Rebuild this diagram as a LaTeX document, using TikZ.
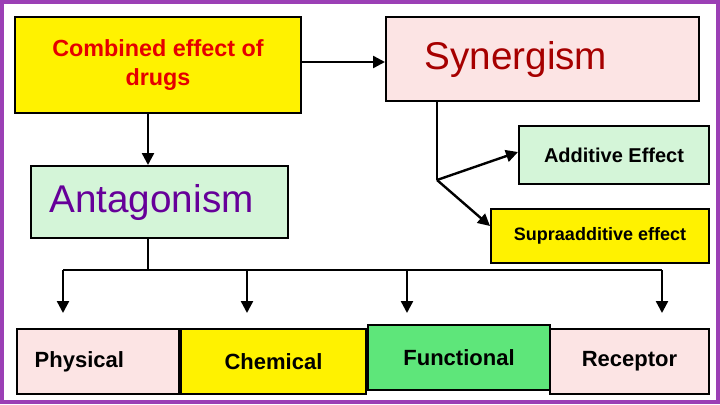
\documentclass[tikz,border=0pt]{standalone}
\usepackage{fontspec}
\setmainfont{Liberation Sans}
\usetikzlibrary{arrows.meta}
\definecolor{boxpink}{HTML}{FCE4E4}
\definecolor{boxgreen}{HTML}{D4F5D8}
\definecolor{boxyellow}{HTML}{FFF200}
\definecolor{funcgreen}{HTML}{5EE67A}
\definecolor{framepurple}{HTML}{9B3FB5}
\tikzset{box/.style={draw=black,line width=1.5pt,inner sep=0pt,anchor=north west},
  arr/.style={-{Triangle[length=9pt,width=9pt]},line width=1.8pt}}
\begin{document}
\begin{tikzpicture}[x=0.75pt,y=-0.75pt]
	\useasboundingbox (0,0) rectangle (720,404);
	\draw[framepurple,line width=3pt] (2,2) rectangle (718,402);
	% top row
	\node[box,fill=boxyellow,minimum width=286*0.75pt,minimum height=96*0.75pt,text=red!90!black,font=\bfseries\fontsize{17.5}{22}\selectfont] (comb) at (14,16)
	  {\parbox{205pt}{\centering Combined effect of\\ drugs}};
	\node[box,fill=boxpink,minimum width=313*0.75pt,minimum height=84*0.75pt,text=red!65!black,font=\fontsize{29}{32}\selectfont] (syn) at (385,16) {\hspace*{-40pt}Synergism};
	\node[box,fill=boxgreen,minimum width=257*0.75pt,minimum height=72*0.75pt,text=violet!80!blue,font=\fontsize{29}{32}\selectfont] (ant) at (30,165) {\hspace*{-12pt}Antagonism};
	\node[box,fill=boxgreen,minimum width=190*0.75pt,minimum height=58*0.75pt,font=\bfseries\fontsize{15}{18}\selectfont] (add) at (518,125) {Additive Effect};
	\node[box,fill=boxyellow,minimum width=218*0.75pt,minimum height=54*0.75pt,font=\bfseries\fontsize{13.5}{16}\selectfont] (supra) at (490,208) {Supraadditive effect};
	% bottom row
	\node[box,fill=boxpink,minimum width=162*0.75pt,minimum height=65*0.75pt,font=\bfseries\fontsize{16.5}{20}\selectfont] (phys) at (16,328) {\hspace*{-28pt}Physical};
	\node[box,fill=boxyellow,minimum width=185*0.75pt,minimum height=65*0.75pt,font=\bfseries\fontsize{16.5}{20}\selectfont] (chem) at (180,328) {Chemical};
	\node[box,fill=funcgreen,minimum width=182*0.75pt,minimum height=65*0.75pt,font=\bfseries\fontsize{16.5}{20}\selectfont] (func) at (367,324) {Functional};
	\node[box,fill=boxpink,minimum width=159*0.75pt,minimum height=65*0.75pt,font=\bfseries\fontsize{16.5}{20}\selectfont] (rec) at (549,328) {Receptor};
	% connectors
	\coordinate (fork) at (437,180);
	\coordinate (bar) at (148,270);
	\draw[arr] (comb.east |- 0,62) -- (syn.west |- 0,62);
	\draw[arr] (comb.south -| bar) -- (ant.north -| bar);
	\draw[line width=1.8pt] (syn.south -| fork) -- (fork);
	\draw[arr] (fork) -- (add.west |- 0,152);
	\draw[arr] (fork) -- (supra.west |- 0,226);
	\draw[line width=1.8pt] (ant.south -| bar) -- (bar);
	\draw[line width=1.8pt] (63,270) -- (662,270);
	\foreach \x in {63,247,407,662}
	  \draw[arr] (\x,270) -- (\x,313);
\end{tikzpicture}
\end{document}
